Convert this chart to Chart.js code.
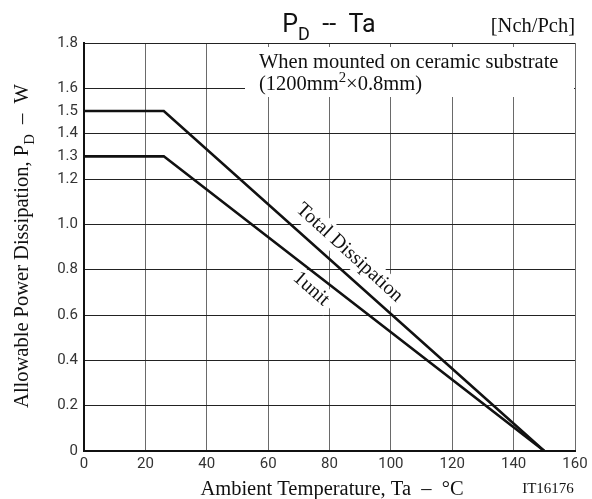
<!DOCTYPE html>
<html>
<head>
<meta charset="utf-8">
<script src="https://cdn.jsdelivr.net/npm/chart.js@4"></script>
<style>
  body { margin: 0; background: #fff; }
  #wrap { width: 592px; height: 499px; position: relative; }
</style>
</head>
<body>
<div id="wrap"><canvas id="pdChart"></canvas></div>
<script>
// ambient temperature (°C) and allowable dissipation (W)
const temps = [0, 26, 150];
const totalPd = [1.5, 1.5, 0];
const unitPd = [1.3, 1.3, 0];
const xTicks = [0, 20, 40, 60, 80, 100, 120, 140, 160];
const yTicks = [0, 0.2, 0.4, 0.6, 0.8, 1.0, 1.2, 1.3, 1.4, 1.5, 1.6, 1.8];

const serif = '"Liberation Serif", "Times New Roman", serif';
const sans = 'Roboto, "Noto Sans", sans-serif';

// draws a run of text pieces, some lowered (sub) or raised (sup)
function drawRich(ctx, parts, x, y, align, size, family) {
    let w = 0;
    parts.forEach(p => {
        ctx.font = (p.sub || p.sup ? size * 0.72 : size) + 'px ' + family;
        w += ctx.measureText(p.t).width;
    });
    let cx = align === 'center' ? x - w / 2 : (align === 'right' ? x - w : x);
    ctx.textAlign = 'left';
    ctx.textBaseline = 'alphabetic';
    parts.forEach(p => {
        ctx.font = (p.sub || p.sup ? size * 0.72 : size) + 'px ' + family;
        let dy = p.sub ? size * 0.3 : (p.sup ? -size * 0.38 : 0);
        ctx.fillText(p.t, cx, y + dy);
        cx += ctx.measureText(p.t).width;
    });
}

function rotatedLabel(ctx, text, x, y, angle, size) {
    ctx.save();
    ctx.translate(x, y);
    ctx.rotate(angle);
    ctx.font = size + 'px ' + serif;
    const w = ctx.measureText(text).width;
    ctx.fillStyle = '#fff';
    ctx.fillRect(-w / 2 - 6, -size * 0.6, w + 12, size * 1.2);
    ctx.fillStyle = '#111';
    ctx.textAlign = 'center';
    ctx.textBaseline = 'middle';
    ctx.fillText(text, 0, 0);
    ctx.restore();
}

const textPlugin = {
    id: 'texts',
    beforeDatasetsDraw(chart) {
        const ctx = chart.ctx;
        const xs = chart.scales.x, ys = chart.scales.y;
        ctx.save();
        // mounting note with white box over the grid
        ctx.fillStyle = '#fff';
        ctx.fillRect(245, 47, 329, 50);
        ctx.fillStyle = '#111';
        drawRich(ctx, [{t: 'When mounted on ceramic substrate'}], 259, 68, 'left', 20.5, serif);
        drawRich(ctx, [{t: '(1200mm'}, {t: '2', sup: true}, {t: '\u00d70.8mm)'}], 259, 90, 'left', 20.5, serif);
        // curve labels
        rotatedLabel(ctx, 'Total Dissipation', xs.getPixelForValue(86.5), ys.getPixelForValue(0.875), 0.74, 20);
        rotatedLabel(ctx, '1unit', xs.getPixelForValue(74), ys.getPixelForValue(0.715), 0.72, 20);
        ctx.restore();
    },
    afterDraw(chart) {
        const ctx = chart.ctx;
        ctx.save();
        ctx.fillStyle = '#111';
        // title
        drawRich(ctx, [{t: 'P'}, {t: 'D', sub: true}, {t: '  --  Ta'}], 329, 32, 'center', 25, sans);
        drawRich(ctx, [{t: '[Nch/Pch]'}], 575, 32, 'right', 20.5, serif);
        // x axis title
        drawRich(ctx, [{t: 'Ambient Temperature, Ta  \u2013  \u00b0C'}], 332, 495, 'center', 20.5, serif);
        drawRich(ctx, [{t: 'IT16176'}], 548, 493, 'center', 15, serif);
        // y axis title
        ctx.translate(28, 246);
        ctx.rotate(-Math.PI / 2);
        drawRich(ctx, [{t: 'Allowable Power Dissipation, P'}, {t: 'D', sub: true}, {t: '  \u2013  W'}], 0, 0, 'center', 20.5, serif);
        ctx.restore();
    }
};

const ctx = document.getElementById('pdChart');

new Chart(ctx, {
    type: 'line',
    data: {
        datasets: [{
            label: 'Total Dissipation',
            data: temps.map((t, i) => ({x: t, y: totalPd[i]})),
            borderColor: '#111',
            borderWidth: 2.6,
            pointRadius: 0,
            tension: 0
        }, {
            label: '1unit',
            data: temps.map((t, i) => ({x: t, y: unitPd[i]})),
            borderColor: '#111',
            borderWidth: 2.6,
            pointRadius: 0,
            tension: 0
        }]
    },
    options: {
        responsive: true,
        maintainAspectRatio: false,
        animation: false,
        events: [],
        layout: { padding: { top: 43, right: 17, left: 0, bottom: 0 } },
        plugins: { legend: { display: false }, tooltip: { enabled: false } },
        scales: {
            x: {
                type: 'linear',
                min: 0,
                max: 160,
                afterBuildTicks: s => { s.ticks = xTicks.map(v => ({value: v})); },
                afterFit: s => { s.height = 48; },
                grid: { color: '#6a6a6a', lineWidth: 1, drawTicks: false },
                border: { color: '#111', width: 2 },
                ticks: { color: '#333', font: { family: sans, size: 15 }, padding: 4, maxRotation: 0 }
            },
            y: {
                type: 'linear',
                min: 0,
                max: 1.8,
                afterBuildTicks: s => { s.ticks = yTicks.map(v => ({value: v})); },
                afterFit: s => { s.width = 84; },
                grid: {
                    color: c => (c.tick && (Math.abs(c.tick.value - 1.3) < 1e-6 || Math.abs(c.tick.value - 1.5) < 1e-6)) ? 'rgba(0,0,0,0)' : '#222',
                    lineWidth: 1,
                    drawTicks: false
                },
                border: { color: '#111', width: 2 },
                ticks: {
                    color: '#333',
                    font: { family: sans, size: 15 },
                    padding: 6,
                    callback: v => (v === 1 ? '1.0' : String(v))
                }
            }
        }
    },
    plugins: [textPlugin]
});
</script>
</body>
</html>
